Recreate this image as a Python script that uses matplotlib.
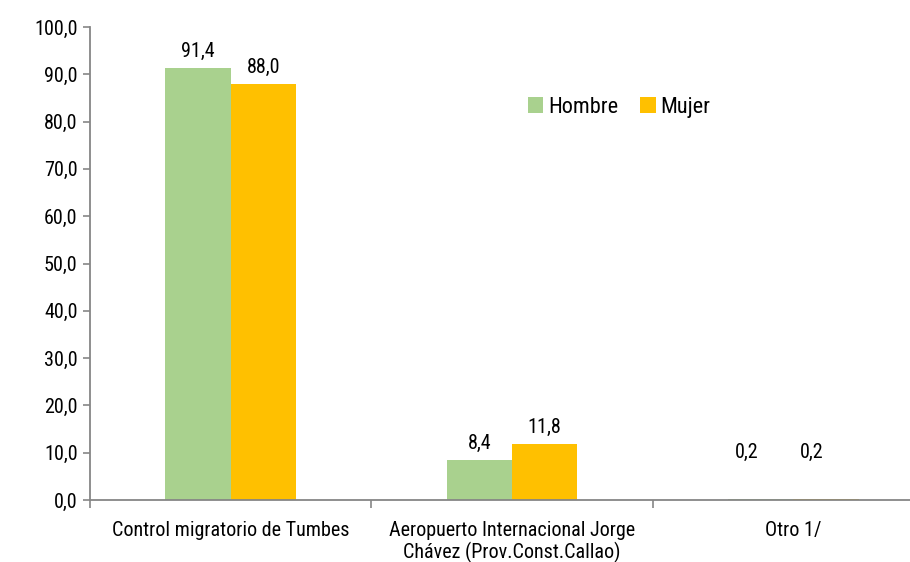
import numpy as np
import matplotlib.pyplot as plt

# data
categories = ["Control migratorio de Tumbes",
              "Aeropuerto Internacional Jorge\nChávez (Prov.Const.Callao)",
              "Otro 1/"]
hombre = [91.4, 8.4, 0.2]
mujer = [88.0, 11.8, 0.2]
yticks = np.arange(0, 101, 10)

plt.rcParams['font.family'] = ['Roboto Condensed', 'Liberation Sans', 'DejaVu Sans']
FS = 14.5

fig = plt.figure(figsize=(9.1, 5.62), dpi=100)
ax = fig.add_axes([90/910, 1-500/562, 844/910, 473/562])

x = np.arange(len(categories))
w = 0.232
b1 = ax.bar(x - w/2, hombre, w, color='#A9D18E', label='Hombre')
b2 = ax.bar(x + w/2, mujer, w, color='#FFC000', label='Mujer')

def fmt(v):
    return f"{v:.1f}".replace('.', ',')

for bars, vals in ((b1, hombre), (b2, mujer)):
    for r, v in zip(bars, vals):
        cx = r.get_x() + r.get_width()/2
        if v < 1:
            # small values: labels placed manually higher up
            ax.text(cx - 0.05, 10.0, fmt(v), ha='center', va='center', fontsize=FS)
        else:
            ax.annotate(fmt(v), (cx, v), xytext=(0, 5), textcoords='offset points',
                        ha='center', va='bottom', fontsize=FS)

ax.set_xlim(-0.5, 2.5)
ax.set_ylim(0, 100)
ax.set_yticks(yticks)
ax.set_yticklabels([fmt(t) for t in yticks], fontsize=FS)

ax.set_xticks(x)
ax.set_xticklabels(categories, fontsize=FS, linespacing=1.1)
ax.tick_params(axis='x', length=0, pad=15)
ax.set_xticks([-0.5, 0.5, 1.5, 2.5], minor=True)
ax.tick_params(axis='x', which='minor', length=6, color='#868686', width=1.2)
ax.tick_params(axis='y', length=5, color='#868686', width=1.2, pad=4)

for s in ('top', 'right'):
    ax.spines[s].set_visible(False)
for s in ('left', 'bottom'):
    ax.spines[s].set_color('#868686')
    ax.spines[s].set_linewidth(1.3)

ax.legend(loc='upper left', bbox_to_anchor=(0.495, 0.895), ncol=2, frameon=False,
          fontsize=16, handlelength=0.7, handleheight=0.7, handletextpad=0.2,
          columnspacing=1.0)

fig.savefig('out.png', dpi=100)
